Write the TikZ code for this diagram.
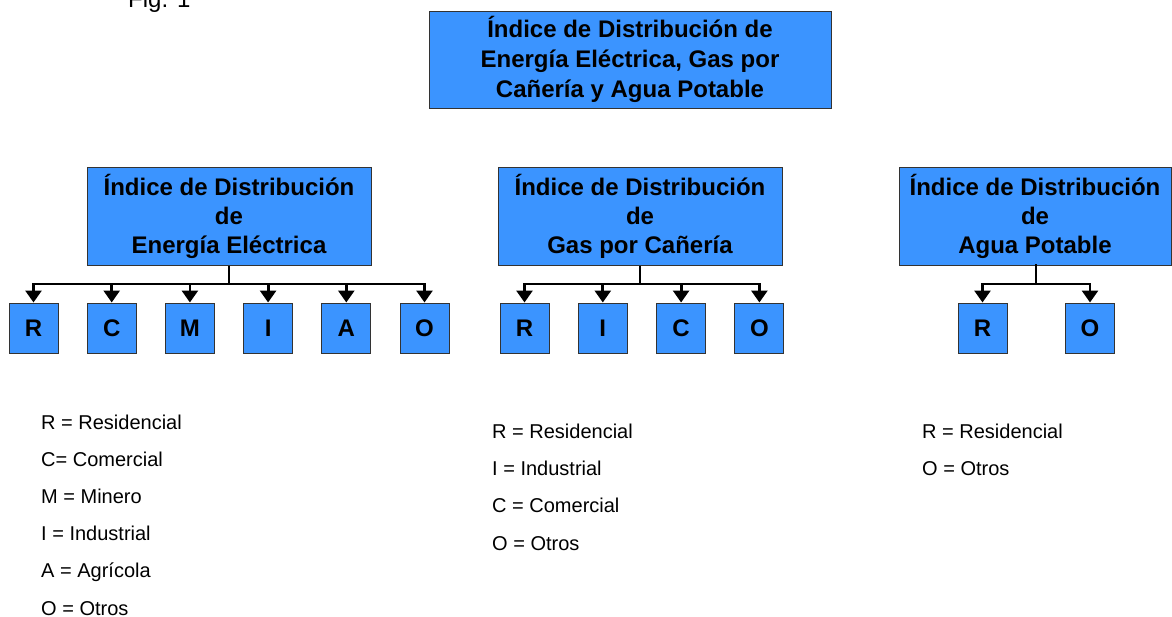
\documentclass[tikz,border=0pt]{standalone}
\usepackage{fontspec}
\setmainfont{Liberation Sans}
\usetikzlibrary{arrows.meta}
\definecolor{boxblue}{RGB}{59,148,255}
\tikzset{
	bigbox/.style={draw=black!80,fill=boxblue,line width=1pt,minimum width=284pt,minimum height=98pt,
		inner sep=0pt,align=center,font=\bfseries\fontsize{24}{29}\selectfont},
	leaf/.style={draw=black!80,fill=boxblue,line width=1pt,minimum width=49pt,minimum height=50pt,
		inner sep=0pt,font=\bfseries\fontsize{24}{29}\selectfont},
	bus/.style={line width=2.8pt},
	link/.style={line width=2.8pt,-{Triangle[width=16pt,length=12pt]}},
	legend/.style={anchor=base west,inner sep=0pt,font=\fontsize{20}{24}\selectfont}
}
\begin{document}
\begin{tikzpicture}[x=1pt,y=-1pt]
		\useasboundingbox (0,0) rectangle (1172,616);
		\node[anchor=base west,inner sep=0pt,font=\fontsize{24}{29}\selectfont] (fig) at (128,7) {Fig. 1};

		\node[bigbox,minimum width=402pt,minimum height=97pt,font=\bfseries\fontsize{24}{30}\selectfont] (root) at (630,59.5)
			{Índice de Distribución de\\Energía Eléctrica, Gas por\\Cañería y Agua Potable};

		\node[bigbox] (ee) at (229,216) {Índice de Distribución\\de\\Energía Eléctrica};
		\node[bigbox] (gas) at (640,216) {Índice de Distribución\\de\\Gas por Cañería};
		\node[bigbox,minimum width=272pt] (agua) at (1035,216) {Índice de Distribución\\de\\Agua Potable};

		\coordinate (eebus) at (229,284);
		\coordinate (gasbus) at (640,284);
		\coordinate (aguabus) at (1036,284);

		\foreach \l[count=\i from 0] in {R,C,M,I,A,O}
		\node[leaf] (ee\i) at (33.5+78.2*\i,328) {\l};
		\foreach \l[count=\i from 0] in {R,I,C,O}
		\node[leaf] (gas\i) at (524.5+78.3*\i,328) {\l};
		\foreach \l[count=\i from 0] in {R,O}
		\node[leaf] (agua\i) at (982.5+107.5*\i,328) {\l};

		\draw[bus] (ee.south) -- (eebus);
		\foreach \i in {0,...,5}
		\draw[link] (eebus) -| (ee\i.north);
		\draw[bus] (gas.south) -- (gasbus);
		\foreach \i in {0,...,3}
		\draw[link] (gasbus) -| (gas\i.north);
		\draw[bus] (agua.south) -| (aguabus);
		\foreach \i in {0,1}
		\draw[link] (aguabus) -| (agua\i.north);

		% legends
		\foreach \t[count=\i from 0] in {R = Residencial,C= Comercial,M = Minero,I = Industrial,A = Agrícola,O = Otros}
		\node[legend] (leg-ee\i) at (41,429+37.2*\i) {\t};
		\foreach \t[count=\i from 0] in {R = Residencial,I = Industrial,C = Comercial,O = Otros}
		\node[legend] (leg-gas\i) at (492,438+37.4*\i) {\t};
		\foreach \t[count=\i from 0] in {R = Residencial,O = Otros}
		\node[legend] (leg-agua\i) at (922,438+37.4*\i) {\t};
	\end{tikzpicture}
\end{document}
